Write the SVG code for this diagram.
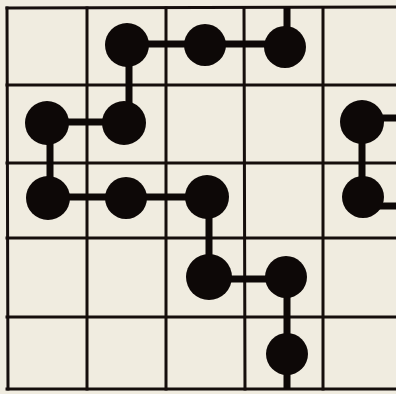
<svg xmlns="http://www.w3.org/2000/svg" width="396" height="394" viewBox="0 0 396 394">
<style>
.grid line{stroke:#150e0c;stroke-width:3;stroke-linecap:square}
.conn line{stroke:#0d0807;stroke-width:7;stroke-linecap:butt}
.node circle{fill:#0d0807}
</style>
<rect width="396" height="394" fill="#f0ece0"/>
<g class="grid">
<line x1="7" y1="8" x2="396" y2="7"/>
<line x1="7" y1="85" x2="396" y2="85"/>
<line x1="7" y1="163" x2="396" y2="163"/>
<line x1="7" y1="238" x2="396" y2="238"/>
<line x1="7" y1="317" x2="396" y2="317"/>
<line x1="7" y1="389" x2="396" y2="389"/>
<line x1="7" y1="8" x2="8" y2="389"/>
<line x1="87" y1="8" x2="87" y2="389"/>
<line x1="166" y1="8" x2="166" y2="389"/>
<line x1="244" y1="8" x2="245" y2="389"/>
<line x1="323" y1="8" x2="323" y2="389"/>
</g>
<g class="conn" id="connectors">
<line x1="127" y1="44" x2="205" y2="44"/>
<line x1="205" y1="44" x2="285" y2="44"/>
<line x1="287" y1="8" x2="287" y2="47"/>
<line x1="129" y1="45" x2="129" y2="123"/>
<line x1="47" y1="122" x2="124" y2="122"/>
<line x1="50" y1="123" x2="50" y2="198"/>
<line x1="48" y1="197" x2="207" y2="197"/>
<line x1="209" y1="198" x2="209" y2="277"/>
<line x1="209" y1="279" x2="286" y2="279"/>
<line x1="287" y1="277" x2="287" y2="389"/>
<line x1="362" y1="122" x2="362" y2="197"/>
<line x1="362" y1="118" x2="396" y2="118"/>
<line x1="363" y1="206" x2="396" y2="206"/>
</g>
<g id="nA" class="node"><circle cx="127" cy="45" r="22"/></g>
<g id="nB" class="node"><circle cx="205" cy="45" r="21"/></g>
<g id="nC" class="node"><circle cx="285" cy="47" r="21"/></g>
<g id="nD" class="node"><circle cx="47" cy="123" r="22"/></g>
<g id="nE" class="node"><circle cx="124" cy="123" r="22"/></g>
<g id="nF" class="node"><circle cx="48" cy="198" r="22"/></g>
<g id="nG" class="node"><circle cx="126" cy="198" r="21"/></g>
<g id="nH" class="node"><circle cx="207" cy="197" r="22"/></g>
<g id="nI" class="node"><circle cx="209" cy="277" r="23"/></g>
<g id="nJ" class="node"><circle cx="286" cy="277" r="21"/></g>
<g id="nK" class="node"><circle cx="287" cy="354" r="21"/></g>
<g id="nL" class="node"><circle cx="362" cy="122" r="22"/></g>
<g id="nM" class="node"><circle cx="363" cy="197" r="21"/></g>
</svg>
